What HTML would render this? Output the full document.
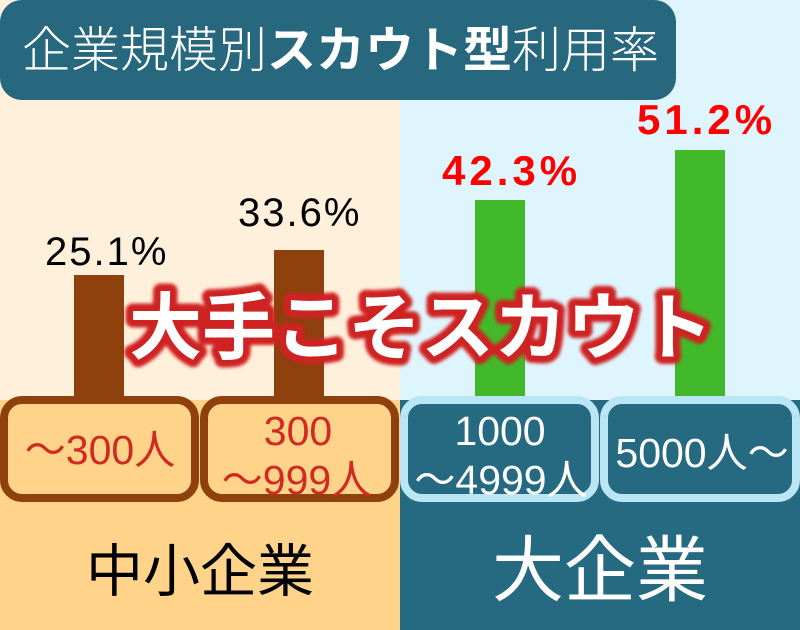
<!DOCTYPE html>
<html><head><meta charset="utf-8"><style>
html,body{margin:0;padding:0;background:#fff;}
svg{display:block;}
</style></head><body>
<svg width="800" height="630" viewBox="0 0 800 630" xmlns="http://www.w3.org/2000/svg">
<defs>
<filter id="blur" x="-10%" y="-30%" width="120%" height="160%"><feGaussianBlur stdDeviation="1.6"/></filter>
</defs>
<!-- backgrounds -->
<rect x="0" y="0" width="400" height="400" fill="#FFF0DB"/>
<rect x="400" y="0" width="400" height="400" fill="#DFF5FE"/>
<rect x="0" y="400" width="400" height="230" fill="#FFD38A"/>
<rect x="400" y="400" width="400" height="230" fill="#266A82"/>

<!-- title -->
<rect x="0" y="0" width="676" height="100" rx="22" fill="#27687F"/>
<text x="22" y="51" dominant-baseline="central" font-size="49" fill="#fff" font-family="'Liberation Sans','Noto Sans CJK JP',sans-serif"><tspan font-weight="300">企業規模別</tspan><tspan font-weight="bold">スカウト型</tspan><tspan font-weight="300">利用率</tspan></text>

<!-- bars -->
<rect x="74" y="275" width="50" height="125" fill="#8E400D"/>
<rect x="274" y="250" width="50" height="150" fill="#8E400D"/>
<rect x="475" y="200" width="50" height="200" fill="#42B92A"/>
<rect x="675" y="150" width="50" height="250" fill="#42B92A"/>

<!-- value labels -->
<g font-family="'Liberation Sans',sans-serif">
<text x="45" y="265" font-size="40" letter-spacing="2" fill="#000">25.1%</text>
<text x="238" y="226" font-size="40" letter-spacing="2" fill="#000">33.6%</text>
<text x="442" y="185" font-size="42" font-weight="bold" letter-spacing="4" fill="#FF0000">42.3%</text>
<text x="637" y="134" font-size="42" font-weight="bold" letter-spacing="4" fill="#FF0000">51.2%</text>
</g>

<!-- boxes -->
<rect x="4" y="400" width="191" height="98" rx="18" fill="#FFD38A" stroke="#8E400D" stroke-width="8"/>
<rect x="204" y="400" width="191" height="98" rx="18" fill="#FFD38A" stroke="#8E400D" stroke-width="8"/>
<rect x="404" y="400" width="191" height="98" rx="18" fill="#266A82" stroke="#B9E5F5" stroke-width="8"/>
<rect x="604" y="400" width="192" height="98" rx="18" fill="#266A82" stroke="#B9E5F5" stroke-width="8"/>

<g font-family="'Liberation Sans','Noto Sans CJK JP',sans-serif" font-size="41" text-anchor="middle">
<text x="100" y="464" fill="#D12A20">～300人</text>
<text x="298" y="445" fill="#D12A20">300</text>
<text x="297" y="494" fill="#D12A20">～999人</text>
<text x="500" y="445" fill="#fff">1000</text>
<text x="501" y="494" fill="#fff">～4999人</text>
<text x="702" y="467" fill="#fff">5000人～</text>
</g>

<!-- bottom labels -->
<text x="200" y="567" dominant-baseline="central" text-anchor="middle" font-size="57" fill="#000" font-family="'Noto Sans CJK JP',sans-serif">中小企業</text>
<text x="600" y="564" dominant-baseline="central" text-anchor="middle" font-size="72" fill="#fff" font-family="'Noto Sans CJK JP',sans-serif">大企業</text>

<!-- overlay -->
<g font-family="'Noto Sans CJK JP',sans-serif" font-size="73" font-weight="bold">
<text x="129" y="322" dominant-baseline="central" fill="#CF2420" stroke="#CF2420" stroke-width="15" stroke-linejoin="round" filter="url(#blur)">大手こそスカウト</text>
<text x="129" y="322" dominant-baseline="central" fill="#fff">大手こそスカウト</text>
</g>
</svg>
</body></html>
